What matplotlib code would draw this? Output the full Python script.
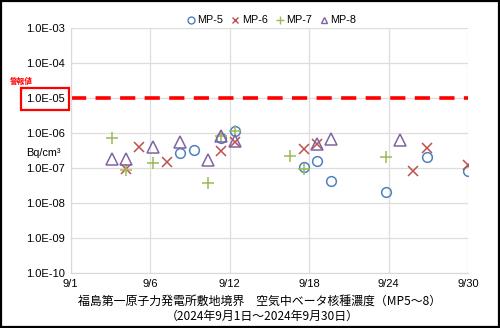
import numpy as np
import matplotlib
matplotlib.use("Agg")
import matplotlib.pyplot as plt
from matplotlib.patches import Rectangle
from matplotlib.lines import Line2D

plt.rcParams['font.family'] = ['Liberation Sans', 'Noto Sans CJK JP', 'DejaVu Sans']

# sampling days in September 2024 and concentrations (Bq/cm3)
mp5_day = [9, 10, 12, 13, 18, 19, 20, 24, 27, 30]
mp5_val = [2.7e-7, 3.3e-7, 7.2e-7, 1.2e-6, 1.1e-7, 1.6e-7, 4.2e-8, 2.1e-8, 2.1e-7, 8.3e-8]

mp6_day = [5, 6, 8, 12, 13, 18, 19, 26, 27, 30]
mp6_val = [9.3e-8, 4.0e-7, 1.55e-7, 3.2e-7, 5.7e-7, 3.5e-7, 5.0e-7, 8.5e-8, 3.7e-7, 1.25e-7]

mp7_day = [4, 5, 7, 11, 12, 13, 17, 18, 24]
mp7_val = [7.2e-7, 9.0e-8, 1.4e-7, 3.9e-8, 8.3e-7, 1.2e-6, 2.3e-7, 9.3e-8, 2.1e-7]

mp8_day = [4, 5, 7, 9, 11, 12, 13, 19, 20, 25]
mp8_val = [1.9e-7, 1.9e-7, 4.0e-7, 5.7e-7, 1.7e-7, 8.6e-7, 6.2e-7, 5.1e-7, 6.8e-7, 6.5e-7]

alarm_level = 1.0e-5

x_ticklabels = ["9/1", "9/6", "9/12", "9/18", "9/24", "9/30"]
y_ticks = [1e-10, 1e-9, 1e-8, 1e-7, 1e-6, 1e-5, 1e-4, 1e-3]
y_ticklabels = ["1.0E-10", "1.0E-09", "1.0E-08", "1.0E-07", "1.0E-06", "1.0E-05", "1.0E-04", "1.0E-03"]

title1 = "福島第一原子力発電所敷地境界　空気中ベータ核種濃度（MP5～8）"
title2 = "（2024年9月1日～2024年9月30日）"

fig = plt.figure(figsize=(5.0, 3.28), dpi=100)
ax = fig.add_axes([0.1414, 0.1668, 0.7946, 0.7469])

ax.plot(mp5_day, mp5_val, 'o', ms=7, mfc='none', mec='#4F81BD', mew=1.1, label='MP-5')
ax.plot(mp6_day, mp6_val, 'x', ms=7, mec='#C0504D', mew=1.1, label='MP-6')
ax.plot(mp7_day, mp7_val, '+', ms=8, mec='#9BBB59', mew=1.1, label='MP-7')
ax.plot(mp8_day, mp8_val, '^', ms=8, mfc='none', mec='#8064A2', mew=1.1, label='MP-8')

ax.axhline(alarm_level, color='#FF0000', lw=2.6, dashes=(4.2, 2.6), zorder=1)

ax.set_yscale('log')
ax.set_ylim(1e-10, 1e-3)
ax.set_xlim(1, 30)
ax.set_xticks(np.linspace(1, 30, len(x_ticklabels)))
ax.set_xticklabels(x_ticklabels)
ax.set_yticks(y_ticks)
ax.set_yticklabels(y_ticklabels)
ax.minorticks_off()
ax.tick_params(length=0, labelsize=8, pad=4)
ax.grid(True, color='#DDDDDD', lw=0.9)
ax.set_axisbelow(True)
for side in ['top', 'right']:
    ax.spines[side].set_visible(False)
for side in ['left', 'bottom']:
    ax.spines[side].set_color('#D9D9D9')

handles = [
    Line2D([], [], ls='none', marker='o', ms=5, mfc='none', mec='#4F81BD', mew=1),
    Line2D([], [], ls='none', marker='x', ms=5, mec='#C0504D', mew=1),
    Line2D([], [], ls='none', marker='+', ms=6, mec='#9BBB59', mew=1),
    Line2D([], [], ls='none', marker='^', ms=5, mfc='none', mec='#8064A2', mew=1),
]
fig.legend(handles, ['MP-5', 'MP-6', 'MP-7', 'MP-8'], loc='center', bbox_to_anchor=(0.543, 0.938),
           ncol=4, frameon=False, fontsize=7.8, handlelength=0.8, handletextpad=0.2,
           columnspacing=0.7)

fig.text(0.086, 1 - 153 / 328, "Bq/cm³", fontsize=7.8, ha='center', va='center')
fig.text(0.043, 1 - 81 / 328, "警報値", fontsize=5.5, color='#FF0000', ha='center', va='center',
         family=['Noto Sans CJK JP', 'DejaVu Sans'], weight='bold')
fig.patches.append(Rectangle((21 / 500, 1 - 110 / 328), 48 / 500, 22 / 328, transform=fig.transFigure,
                             fill=False, ec='#FF0000', lw=1.6))

fig.text(0.52, 1 - 301.5 / 328, title1, fontsize=8.6, ha='center', va='center',
         family=['Noto Sans CJK JP', 'DejaVu Sans'])
fig.text(0.524, 1 - 316 / 328, title2, fontsize=8.6, ha='center', va='center',
         family=['Noto Sans CJK JP', 'DejaVu Sans'])

fig.patches.append(Rectangle((0.002, 0.003), 0.995, 0.994, transform=fig.transFigure,
                             fill=False, ec='black', lw=1.6))

fig.savefig("out.png", dpi=100)
